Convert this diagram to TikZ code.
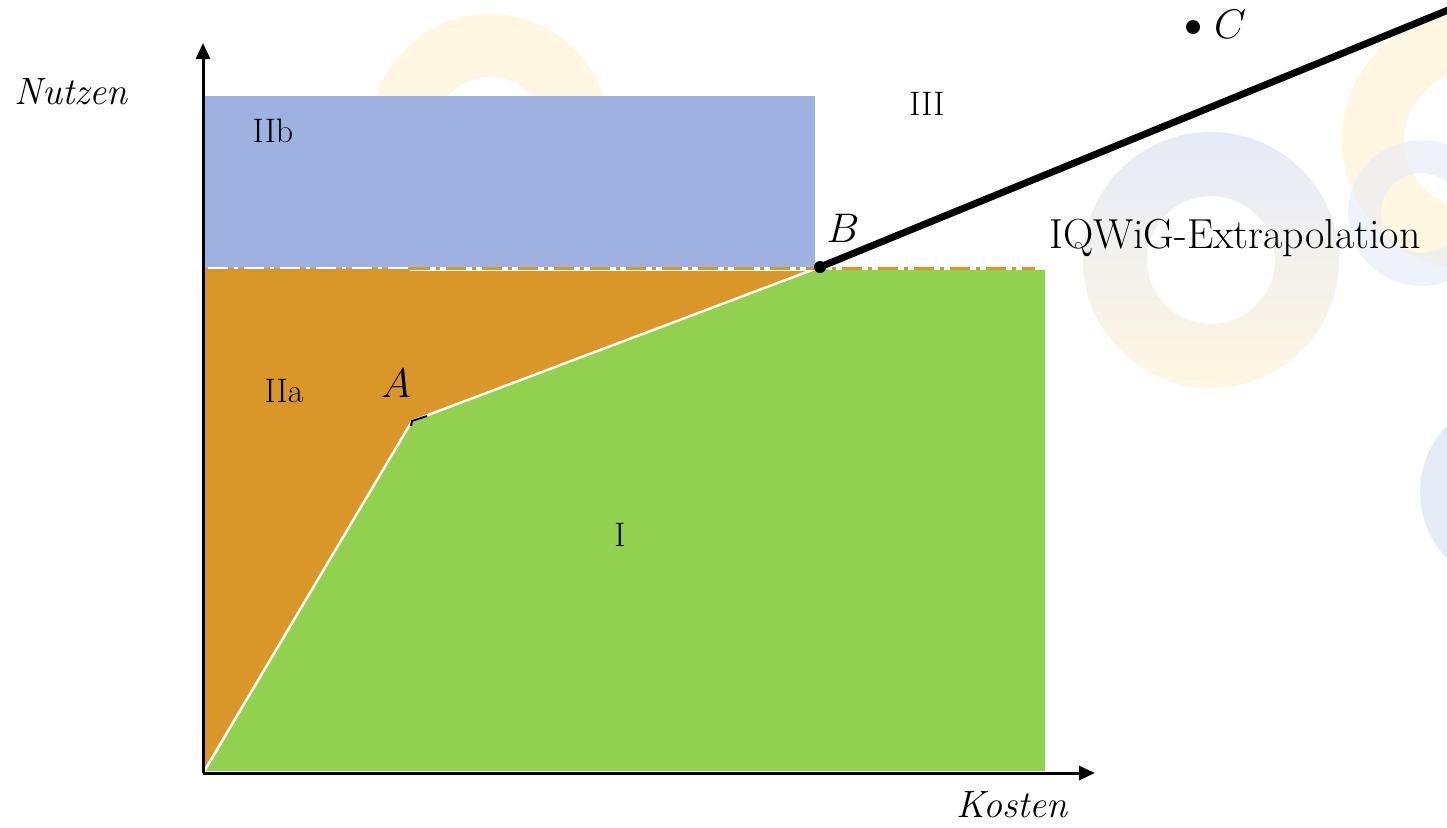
\documentclass[tikz,border=0pt]{standalone}
\usetikzlibrary{arrows.meta}
\definecolor{regblue}{RGB}{158,178,226}
\definecolor{regorange}{RGB}{218,151,41}
\definecolor{reggreen}{RGB}{146,208,80}
\definecolor{ringyel}{RGB}{255,247,226}
\definecolor{ringblue}{RGB}{230,234,247}
\begin{document}
\begin{tikzpicture}[x=0.5bp,y=-0.5bp,
  lbl/.style={font=\fontsize{17bp}{20bp}\selectfont, inner sep=0pt},
  axlbl/.style={font=\fontsize{19bp}{22bp}\selectfont\itshape, inner sep=0pt},
  axis/.style={line width=1.5bp, -{Triangle[length=8bp,width=7bp]}}]
\useasboundingbox (0,0) rectangle (1447,827);
% background rings
\fill[ringyel, even odd rule] (490,134) circle (120) (490,134) circle (57);
\fill[ringyel, even odd rule] (1472,140) circle (130) (1472,140) circle (68);
\shade[top color=ringblue, bottom color=ringyel, even odd rule] (1211,260) circle (128) (1211,260) circle (64);
\fill[ringblue, opacity=0.6, even odd rule] (1421,213) circle (73) (1421,213) circle (40);
\fill[ringblue] (1515,492) circle (95);
% key points
\coordinate (O) at (203,773);
\coordinate (A) at (412,421);
\coordinate (B) at (820,267);
\coordinate (Ytip) at (203,43);
\coordinate (Xtip) at (1095,773);
\coordinate (Lend) at (1458,6);
% regions
\fill[regblue] (203,96) rectangle (815,268);
\fill[regorange] (203,268) -- (B) -- (A) -- (O) -- cycle;
\fill[reggreen] (206,771) -- (A) -- (B) -- (830,270) -- (1045,270) -- (1045,771) -- cycle;
\draw[white, line width=1.2bp] (O) -- (A) -- (B);
\draw[line width=1bp] (411,426) -- (412,421) -- (427,416);
% dash-dot line
\draw[white, line width=1.4bp, dash pattern=on 10bp off 3bp on 2bp off 3bp] (208,268) -- (410,268);
\draw[white, line width=1.6bp] (410,269) -- (815,269);
\draw[regorange, line width=1.5bp, dash pattern=on 10bp off 3bp on 2bp off 3bp] (410,268) -- (1035,268);
% axes
\draw[axis] (O) -- (Ytip);
\draw[axis] (O) -- (Xtip);
% extrapolation line
\draw[line width=3.5bp] (B) -- (Lend);
\fill (B) circle (6);
\fill (1193,27) circle (7);
% labels
\node[axlbl] (nutzen) at (71,92) {Nutzen};
\node[axlbl] (kosten) at (1012,805) {Kosten};
\node[lbl] (IIb) at (273,131) {IIb};
\node[lbl] (IIa) at (284,391) {IIa};
\node[lbl] (I) at (620,535) {I};
\node[lbl] (III) at (927,104) {III};
\node[axlbl] (Alab) at (396,383) {$A$};
\node[axlbl] (Blab) at (843,228) {$B$};
\node[axlbl] (Clab) at (1230,24) {$C$};
\node[font=\fontsize{21bp}{25bp}\selectfont, inner sep=0pt] (iqwig) at (1235,238) {IQWiG-Extrapolation};
\end{tikzpicture}
\end{document}
